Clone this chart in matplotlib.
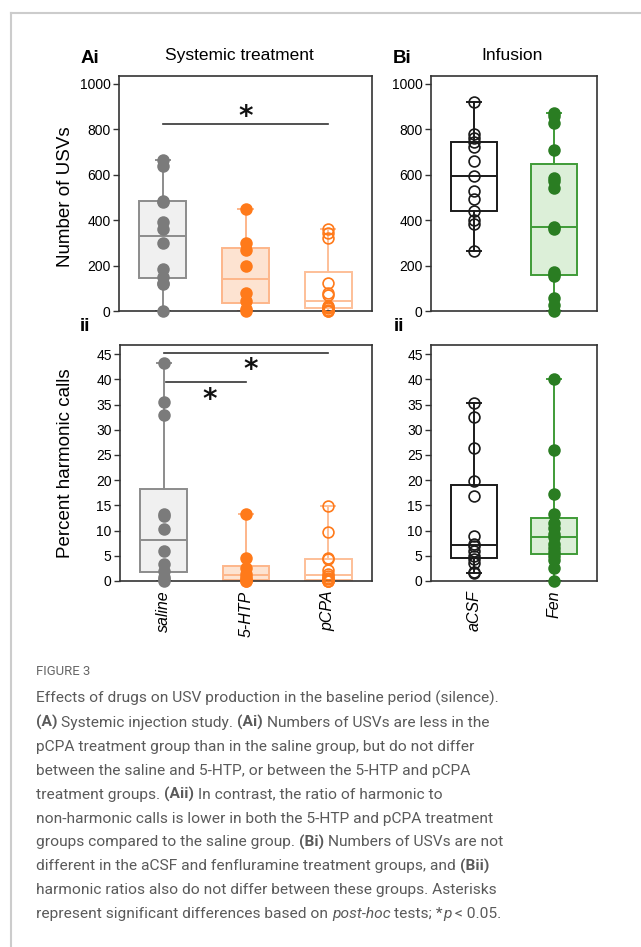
import numpy as np
import matplotlib
matplotlib.use("Agg")
import matplotlib.pyplot as plt
from matplotlib.lines import Line2D

# ---- data ----
sys_groups = ["saline", "5-HTP", "pCPA"]
inf_groups = ["aCSF", "Fen"]

usv_saline = [0, 120, 125, 150, 185, 298, 360, 394, 482, 485, 640, 665]
usv_htp = [0, 10, 45, 80, 200, 270, 300, 450]
usv_pcpa = [0, 2, 5, 14, 18, 20, 70, 78, 122, 320, 342, 362]
usv_acsf = [266, 382, 401, 440, 494, 529, 596, 659, 721, 743, 762, 779, 919]
usv_fen = [0, 25, 56, 152, 163, 170, 362, 368, 541, 571, 585, 710, 828, 857, 872]

harm_saline = [0, 0.3, 0.8, 2.0, 3.4, 6.0, 10.3, 12.9, 13.3, 32.9, 35.4, 43.2]
harm_htp = [0, 0, 0.3, 0.8, 1.4, 2.5, 4.5, 13.2]
harm_pcpa = [0, 0, 0, 0.3, 0.6, 0.9, 1.3, 2.1, 4.3, 4.5, 9.7, 14.8]
harm_acsf = [1.5, 1.7, 3.5, 4.4, 5.0, 5.9, 7.0, 7.4, 8.9, 16.9, 19.8, 26.4, 32.5, 35.3]
harm_fen = [0, 2.65, 4.2, 5.0, 5.8, 6.6, 7.4, 8.75, 9.4, 10.5, 11.6, 13.2, 17.2, 26.0, 40.1]

usv_ticks = [0, 200, 400, 600, 800, 1000]
harm_ticks = [0, 5, 10, 15, 20, 25, 30, 35, 40, 45]

# styles per group
st_saline = dict(face="#f0f0f0", edge="#8c8c8c", pt="#7b7b7b", mfc="#7b7b7b")
st_htp = dict(face="#fde3d1", edge="#fdb68a", pt="#ff7a1a", mfc="#ff7a1a")
st_pcpa = dict(face="white", edge="#fdbf98", pt="#ff7a1a", mfc="none")
st_acsf = dict(face="white", edge="#1a1a1a", pt="#1a1a1a", mfc="none")
st_fen = dict(face="#dcefd8", edge="#3f9b37", pt="#2a7d22", mfc="#2a7d22")

plt.rcParams["font.family"] = ["Liberation Sans", "DejaVu Sans"]

W, H = 641, 947
fig = plt.figure(figsize=(W / 100, H / 100), dpi=100)


def px_axes(l, t, r, b):
    return fig.add_axes([l / W, 1 - b / H, (r - l) / W, (b - t) / H])


def ftext(x, y, s, **kw):
    return fig.text(x / W, 1 - y / H, s, **kw)


def draw_panel(ax, groups, styles, ylim, yticks, labels=None):
    for i, (vals, st) in enumerate(zip(groups, styles)):
        lp = dict(color=st["edge"], lw=1.4)
        ax.boxplot([vals], positions=[i], widths=0.57, whis=(0, 100),
                   patch_artist=True, showfliers=False, capwidths=0.17,
                   boxprops=dict(facecolor=st["face"], edgecolor=st["edge"], linewidth=1.4),
                   medianprops=lp, whiskerprops=lp, capprops=lp)
        ax.plot([i] * len(vals), vals, "o", ms=7.8, mfc=st["mfc"], mec=st["pt"],
                mew=1.2, clip_on=False, zorder=4)
    ax.set_xlim(-0.53, len(groups) - 0.47)
    ax.set_ylim(*ylim)
    ax.set_yticks(yticks)
    ax.tick_params(axis="y", length=4, width=1, color="#333333", labelsize=10, pad=2)
    ax.tick_params(axis="x", length=0, pad=7)
    if labels is None:
        ax.set_xticks([])
    else:
        ax.set_xticks(range(len(groups)))
        ax.set_xticklabels(labels, rotation=90, fontstyle="italic", fontsize=11.5)
    for sp in ax.spines.values():
        sp.set_color("#333333")
        sp.set_linewidth(1.2)


ax_ai = px_axes(119, 76, 372, 311)
ax_bi = px_axes(431, 76, 597, 311)
ax_aii = px_axes(120, 345, 372, 581)
ax_bii = px_axes(431, 345, 597, 581)

draw_panel(ax_ai, [usv_saline, usv_htp, usv_pcpa], [st_saline, st_htp, st_pcpa],
           (0, 1035), usv_ticks)
draw_panel(ax_bi, [usv_acsf, usv_fen], [st_acsf, st_fen], (0, 1035), usv_ticks)
draw_panel(ax_aii, [harm_saline, harm_htp, harm_pcpa], [st_saline, st_htp, st_pcpa],
           (0, 46.8), harm_ticks, sys_groups)
draw_panel(ax_bii, [harm_acsf, harm_fen], [st_acsf, st_fen], (0, 46.8), harm_ticks,
           inf_groups)

# significance bars
star_kw = dict(ha="center", va="baseline", fontsize=20, fontweight="bold",
               family="DejaVu Sans", color="#111111")
ax_ai.plot([0, 2], [824, 824], color="#333333", lw=1.2)
ax_ai.text(1.0, 820, "*", **star_kw)
ax_aii.plot([0, 2], [45.2, 45.2], color="#333333", lw=1.2, clip_on=False)
ax_aii.text(1.06, 40.2, "*", **star_kw)
ax_aii.plot([0.03, 1], [39.5, 39.5], color="#333333", lw=1.2)
ax_aii.text(0.56, 34.4, "*", **star_kw)

# panel labels and titles
ftext(65, 197, "Number of USVs", rotation=90, ha="center", va="center", fontsize=13.5)
ftext(66, 463, "Percent harmonic calls", rotation=90, ha="center", va="center", fontsize=13.5)
ftext(81, 63, "Ai", fontsize=13.5, fontweight="bold", va="baseline")
ftext(393, 63, "Bi", fontsize=13.5, fontweight="bold", va="baseline")
ftext(80, 331, "ii", fontsize=13.5, fontweight="bold", va="baseline")
ftext(394, 331, "ii", fontsize=13.5, fontweight="bold", va="baseline")
ftext(239, 60, "Systemic treatment", ha="center", va="baseline", fontsize=12.5)
ftext(512, 60, "Infusion", ha="center", va="baseline", fontsize=12.5)

# card border
fig.add_artist(Line2D([11 / W, 11 / W], [0, 1 - 13 / H], color="#cccccc", lw=1.5))
fig.add_artist(Line2D([11 / W, 1], [1 - 13 / H, 1 - 13 / H], color="#cccccc", lw=1.5))

# caption
cap_font = ["Roboto", "DejaVu Sans"]
cap_col = "#5a5a5a"
caption = [
    [("Effects of drugs on USV production in the baseline period (silence).", "n")],
    [("(A)", "b"), (" Systemic injection study. ", "n"), ("(Ai)", "b"),
     (" Numbers of USVs are less in the", "n")],
    [("pCPA treatment group than in the saline group, but do not differ", "n")],
    [("between the saline and 5-HTP, or between the 5-HTP and pCPA", "n")],
    [("treatment groups. ", "n"), ("(Aii)", "b"), (" In contrast, the ratio of harmonic to", "n")],
    [("non-harmonic calls is lower in both the 5-HTP and pCPA treatment", "n")],
    [("groups compared to the saline group. ", "n"), ("(Bi)", "b"),
     (" Numbers of USVs are not", "n")],
    [("different in the aCSF and fenfluramine treatment groups, and ", "n"), ("(Bii)", "b")],
    [("harmonic ratios also do not differ between these groups. Asterisks", "n")],
    [("represent significant differences based on ", "n"), ("post-hoc", "i"),
     (" tests; *", "n"), ("p", "i"), (" < 0.05.", "n")],
]

fig.canvas.draw()
rend = fig.canvas.get_renderer()


def width_px(s, size, weight="normal", style="normal"):
    t = fig.text(0, 0, s, fontsize=size, family=cap_font, fontweight=weight, fontstyle=style)
    w = t.get_window_extent(rend).width
    t.remove()
    return w


# fit caption size to the first line width
cap_size = 10 * 461 / width_px(caption[0][0][0], 10)

ftext(36, 675, "FIGURE 3", fontsize=cap_size * 0.85, family=cap_font, color="#666666",
      va="baseline")

for li, parts in enumerate(caption):
    y = 703 + li * 23.9
    x = 36
    for s, kind in parts:
        weight = "bold" if kind == "b" else "normal"
        style = "italic" if kind == "i" else "normal"
        sp = width_px("x x", cap_size, weight, style) - width_px("xx", cap_size, weight, style)
        lead = len(s) - len(s.lstrip(" "))
        trail = len(s) - len(s.rstrip(" "))
        core = s.strip(" ")
        x += lead * sp
        ftext(x, y, core, fontsize=cap_size, family=cap_font, fontweight=weight,
              fontstyle=style, color=cap_col, va="baseline")
        x += width_px(core, cap_size, weight, style) + trail * sp

fig.savefig("out.png", dpi=100)
